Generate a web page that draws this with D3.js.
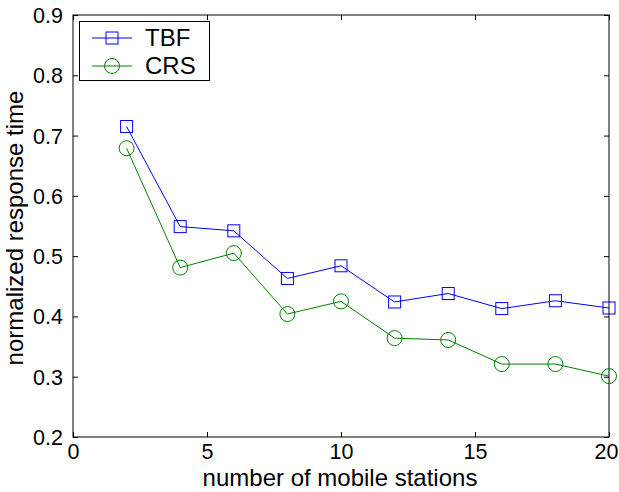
<!DOCTYPE html>
<html><head><meta charset="utf-8">
<script src="https://cdn.jsdelivr.net/npm/d3@7"></script>
<style>body{margin:0;background:#fff}svg{display:block}text{font-family:"Liberation Sans",Arial,sans-serif}</style>
</head><body>
<svg id="c" width="619" height="492"></svg>
<script>
const xs = [2,4,6,8,10,12,14,16,18,20];
const tbf = [0.715,0.549,0.542,0.463,0.484,0.424,0.438,0.413,0.426,0.414];
const crs = [0.679,0.481,0.505,0.404,0.425,0.364,0.361,0.321,0.321,0.301];
const xTicks = [0,5,10,15,20];
const yTicks = [0.2,0.3,0.4,0.5,0.6,0.7,0.8,0.9];
const seriesNames = ["TBF","CRS"];
const colors = ["#0000ff","#008000"];

const svg = d3.select("#c");
const W = 619;
const L=73, R=609, T=15, B=437;
const x = d3.scaleLinear().domain([0,20]).range([L,R]);
const y = d3.scaleLinear().domain([0.2,0.9]).range([B,T]);

const fs = 21.5, lfs = 24;
svg.append("rect").attr("x",L).attr("y",T).attr("width",R-L).attr("height",B-T)
  .attr("fill","none").attr("stroke","#000").attr("stroke-width",1);

const tl = 5;
const bx = svg.append("g").attr("transform",`translate(0,${B})`).call(d3.axisBottom(x).tickValues(xTicks).tickSizeInner(-tl).tickSizeOuter(0).tickPadding(10));
const tx = svg.append("g").attr("transform",`translate(0,${T})`).call(d3.axisTop(x).tickValues(xTicks).tickSizeInner(-tl).tickSizeOuter(0).tickFormat(""));
const ly = svg.append("g").attr("transform",`translate(${L},0)`).call(d3.axisLeft(y).tickValues(yTicks).tickSizeInner(-tl).tickSizeOuter(0).tickPadding(10).tickFormat(d3.format(".1f")));
const ry = svg.append("g").attr("transform",`translate(${R},0)`).call(d3.axisRight(y).tickValues(yTicks).tickSizeInner(-tl).tickSizeOuter(0).tickFormat(""));
[bx,tx,ly,ry].forEach(g=>{g.select(".domain").remove();g.selectAll("line").attr("stroke","#000");g.selectAll("text").attr("font-size",fs).attr("fill","#000").style("font-family","'Liberation Sans',Arial,sans-serif");});
bx.selectAll("text").attr("dy","0.71em").attr("y",7);
ly.selectAll("text").attr("dy","0.35em");
// keep bottom tick labels inside the window
bx.selectAll("text").each(function(d){
  const w = this.getComputedTextLength();
  const cx = x(d);
  const over = cx + w/2 - (W-1);
  if(over>0) d3.select(this).attr("x",-over);
});

svg.append("text").attr("x",340).attr("y",486).attr("text-anchor","middle").attr("font-size",lfs).text("number of mobile stations");
svg.append("text").attr("transform",`translate(22.5,228) rotate(-90)`).attr("text-anchor","middle").attr("font-size",lfs).text("normalized response time");

const data = [tbf,crs];
const line = d3.line().x((d,i)=>x(xs[i])).y(d=>y(d));
data.forEach((vals,k)=>{
  svg.append("path").datum(vals).attr("d",line).attr("fill","none").attr("stroke",colors[k]).attr("stroke-width",1);
  const g = svg.append("g");
  vals.forEach((v,i)=>{
    if(k===0) g.append("rect").attr("x",x(xs[i])-6).attr("y",y(v)-6).attr("width",12).attr("height",12).attr("fill","none").attr("stroke",colors[k]).attr("stroke-width",1);
    else g.append("circle").attr("cx",x(xs[i])).attr("cy",y(v)).attr("r",7.5).attr("fill","none").attr("stroke",colors[k]).attr("stroke-width",1);
  });
});

svg.append("rect").attr("x",79.5).attr("y",21.5).attr("width",130).attr("height",59).attr("fill","#fff").attr("stroke","#000").attr("stroke-width",1);
seriesNames.forEach((n,k)=>{
  const yy = 38 + k*28;
  svg.append("line").attr("x1",92).attr("x2",132).attr("y1",yy).attr("y2",yy).attr("stroke",colors[k]).attr("stroke-width",1);
  if(k===0) svg.append("rect").attr("x",106).attr("y",yy-6).attr("width",12).attr("height",12).attr("fill","none").attr("stroke",colors[k]);
  else svg.append("circle").attr("cx",112).attr("cy",yy).attr("r",7.5).attr("fill","none").attr("stroke",colors[k]);
  svg.append("text").attr("x",145).attr("y",yy).attr("dy","0.35em").attr("font-size",lfs).text(n);
});
</script>
</body></html>
